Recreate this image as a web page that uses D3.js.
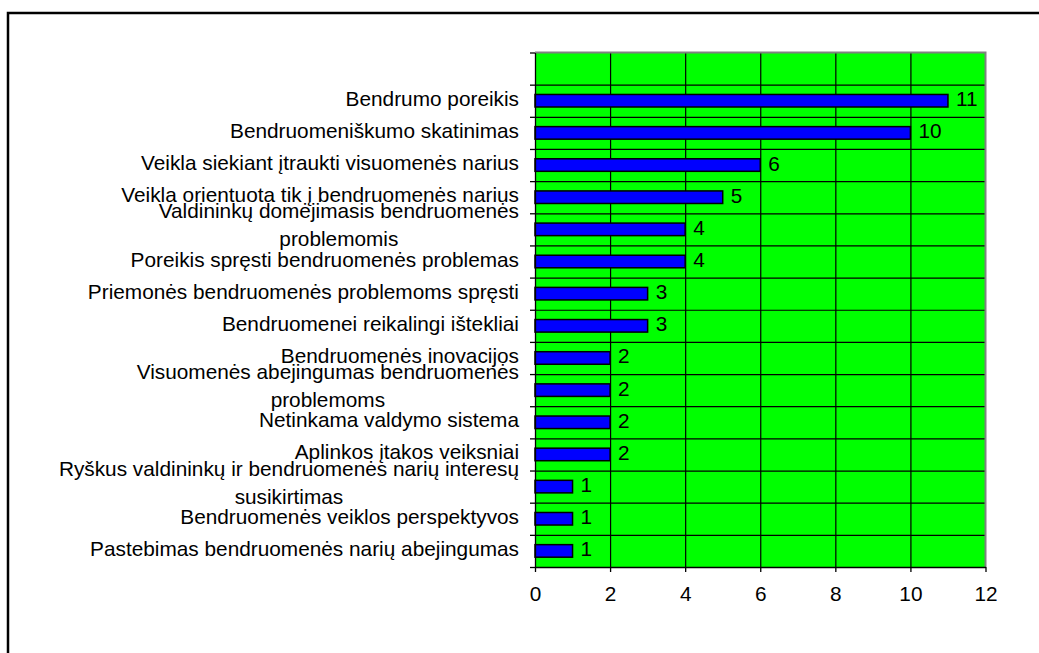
<!DOCTYPE html>
<html>
<head>
<meta charset="utf-8">
<script src="https://cdn.jsdelivr.net/npm/d3@7"></script>
<style>
  html, body { margin: 0; padding: 0; background: #ffffff; }
  svg { display: block; }
  text { font-family: "Liberation Sans", Arial, sans-serif; fill: #000; }
</style>
</head>
<body>
<svg id="chart" width="1039" height="653"></svg>
<script>
// ---- data ----
const categories = [
  "",
  "Bendrumo poreikis",
  "Bendruomeniškumo skatinimas",
  "Veikla siekiant įtraukti visuomenės narius",
  "Veikla orientuota tik į bendruomenės narius",
  "Valdininkų domėjimasis bendruomenės\nproblemomis",
  "Poreikis spręsti bendruomenės problemas",
  "Priemonės bendruomenės problemoms spręsti",
  "Bendruomenei reikalingi ištekliai",
  "Bendruomenės inovacijos",
  "Visuomenės abejingumas bendruomenės\nproblemoms",
  "Netinkama valdymo sistema",
  "Aplinkos įtakos veiksniai",
  "Ryškus valdininkų ir bendruomenės narių interesų\nsusikirtimas",
  "Bendruomenės veiklos perspektyvos",
  "Pastebimas bendruomenės narių abejingumas"
];
const values = [null, 11, 10, 6, 5, 4, 4, 3, 3, 2, 2, 2, 2, 1, 1, 1];
const xTicks = [0, 2, 4, 6, 8, 10, 12];

// ---- layout ----
const svg = d3.select("#chart");
const pLeft = 535, pRight = 985.5, pTop = 52.5, pBottom = 567;
const fontSize = 20.8;

// outer frame
svg.append("rect")
  .attr("x", 8).attr("y", 13).attr("width", 1100).attr("height", 700)
  .attr("fill", "none").attr("stroke", "#000").attr("stroke-width", 2.5);

const x = d3.scaleLinear().domain([0, 12]).range([pLeft, pRight]);
const y = d3.scaleBand().domain(d3.range(categories.length)).range([pTop, pBottom]).padding(0);
const yIdx = d3.scaleLinear().domain([0, categories.length]).range([pTop, pBottom]);

// plot background
svg.append("rect")
  .attr("x", pLeft).attr("y", pTop).attr("width", pRight - pLeft).attr("height", pBottom - pTop)
  .attr("fill", "#00ff00");

// vertical gridlines
svg.append("g")
  .attr("transform", `translate(0,${pBottom})`)
  .call(d3.axisBottom(x).tickValues(xTicks.slice(1, -1)).tickSize(-(pBottom - pTop)).tickFormat(""))
  .call(g => g.select(".domain").remove())
  .call(g => g.selectAll("line").attr("stroke", "#000").attr("stroke-width", 1.2));

// horizontal gridlines
svg.append("g")
  .attr("transform", `translate(${pLeft},0)`)
  .call(d3.axisLeft(yIdx).tickValues(d3.range(1, categories.length)).tickSize(-(pRight - pLeft)).tickFormat(""))
  .call(g => g.select(".domain").remove())
  .call(g => g.selectAll("line").attr("stroke", "#000").attr("stroke-width", 1.2));

// plot border (top and right, gray)
svg.append("path")
  .attr("d", `M${pLeft},${pTop}H${pRight}V${pBottom}`)
  .attr("fill", "none").attr("stroke", "#808080").attr("stroke-width", 2);

// bars
const barH = y.bandwidth() * 0.39;
const data = categories.map((c, i) => ({ i, c, v: values[i] })).filter(d => d.v != null);
svg.append("g").selectAll("rect").data(data).join("rect")
  .attr("x", x(0))
  .attr("y", d => y(d.i) + y.bandwidth() / 2 - barH / 2)
  .attr("width", d => x(d.v) - x(0))
  .attr("height", barH)
  .attr("fill", "#0000ff")
  .attr("stroke", "#000").attr("stroke-width", 1.5);

// value labels
svg.append("g").selectAll("text").data(data).join("text")
  .attr("x", d => x(d.v) + 8)
  .attr("y", d => y(d.i) + y.bandwidth() / 2 + 5.5)
  .attr("font-size", fontSize)
  .text(d => d.v);

// left axis
svg.append("g")
  .attr("transform", `translate(${pLeft},0)`)
  .call(d3.axisLeft(yIdx).tickValues(d3.range(0, categories.length + 1)).tickSize(5).tickSizeOuter(0).tickFormat(""))
  .call(g => g.selectAll("line,path").attr("stroke", "#000").attr("stroke-width", 1.3));

// bottom axis
svg.append("g")
  .attr("transform", `translate(0,${pBottom})`)
  .call(d3.axisBottom(x).tickValues(xTicks).tickSize(5).tickSizeOuter(0).tickPadding(14))
  .call(g => g.selectAll("line,path").attr("stroke", "#000").attr("stroke-width", 1.3))
  .call(g => g.selectAll("text").attr("font-size", fontSize)
    .attr("font-family", "'Liberation Sans', Arial, sans-serif").attr("fill", "#000"));

// category labels
const labelRight = 519;
const lg = svg.append("g");
categories.forEach((c, i) => {
  if (!c) return;
  const lines = c.split("\n");
  const cy = y(i) + y.bandwidth() / 2;
  const tmp = lines.map(l => lg.append("text").attr("font-size", fontSize).text(l));
  const widths = tmp.map(t => t.node().getComputedTextLength());
  const maxW = d3.max(widths);
  const cx = labelRight - maxW / 2;
  tmp.forEach((t, k) => {
    const by = lines.length === 1 ? cy + 5 : (k === 0 ? cy - 11 : cy + 17);
    t.attr("x", cx).attr("y", by).attr("text-anchor", "middle");
  });
});
</script>
</body>
</html>
